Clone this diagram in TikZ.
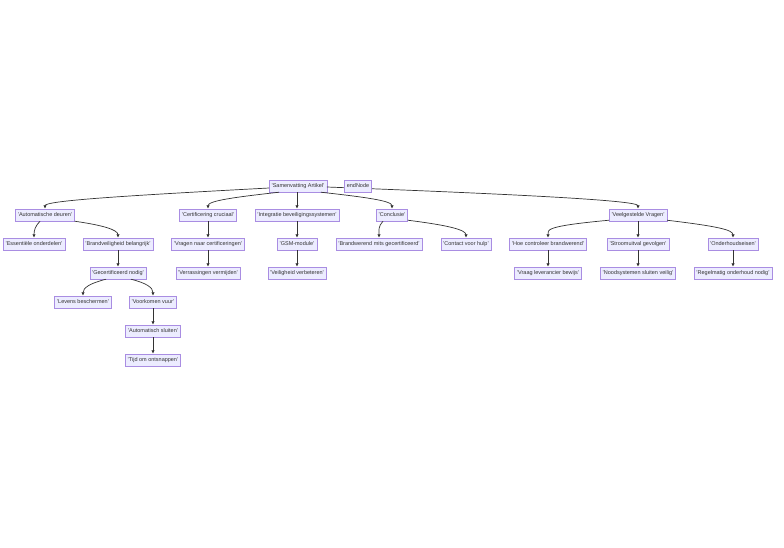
\documentclass[tikz,border=0pt]{standalone}
\usepackage{fontspec}
\setmainfont{Liberation Sans}
\usetikzlibrary{arrows.meta}
\definecolor{boxfill}{HTML}{ECECFF}
\definecolor{boxline}{HTML}{9370DB}
\definecolor{edgecol}{HTML}{333333}
\tikzset{
  box/.style={draw=boxline!80, fill=boxfill, line width=0.45pt, inner sep=2.3pt,
    minimum height=12pt, font=\fontsize{5.5}{6.5}\selectfont, text=edgecol},
  edge/.style={draw=edgecol, line width=0.7pt, -{Latex[length=3.4pt,width=3.4pt]}}
}
\begin{document}
\begin{tikzpicture}[x=1pt,y=-1pt]
        \useasboundingbox (0,0) rectangle (784,547);
        % level 0 and 1
        \node[box] (root) at (298,186) {'Samenvatting Artikel'};
        \node[box] (auto) at (45,215) {'Automatische deuren'};
        \node[box] (cert) at (208,215) {'Certificering cruciaal'};
        \node[box] (integ) at (297,215) {'Integratie beveiligingssystemen'};
        \node[box] (concl) at (392,215) {'Conclusie'};
        \node[box] (veel) at (638,215) {'Veelgestelde Vragen'};
        % level 2
        \node[box] (ess) at (34,244) {'Essentiële onderdelen'};
        \node[box] (brand) at (118,244) {'Brandveiligheid belangrijk'};
        \node[box] (vragen) at (208,244) {'Vragen naar certificeringen'};
        \node[box] (gsm) at (297,244) {'GSM-module'};
        \node[box] (brandw) at (379,244) {'Brandwerend mits gecertificeerd'};
        \node[box] (contact) at (466,244) {'Contact voor hulp'};
        \node[box] (hoe) at (548,244) {'Hoe controleer brandwerend'};
        \node[box] (stroom) at (638,244) {'Stroomuitval gevolgen'};
        \node[box] (onder) at (733,244) {'Onderhoudseisen'};
        % level 3
        \node[box] (gecert) at (118,273) {'Gecertificeerd nodig'};
        \node[box] (verras) at (208,273) {'Verrassingen vermijden'};
        \node[box] (veilig) at (297,273) {'Veiligheid verbeteren'};
        \node[box] (vraag) at (548,273) {'Vraag leverancier bewijs'};
        \node[box] (nood) at (638,273) {'Noodsystemen sluiten veilig'};
        \node[box] (regel) at (733,273) {'Regelmatig onderhoud nodig'};
        % level 4 and deeper
        \node[box] (levens) at (83,302) {'Levens beschermen'};
        \node[box] (vuur) at (153,302) {'Voorkomen vuur'};
        \node[box] (sluit) at (153,331) {'Automatisch sluiten'};
        \node[box] (tijd) at (153,360) {'Tijd om ontsnappen'};
        % connectors
        \draw[edge] (root.west) ++(0,2) .. controls +(-150,8) and +(0,-8) .. (auto.north);
        \draw[edge] (root.south west) ++(10,0) .. controls +(-45,5) and +(0,-8) .. (cert.north);
        \draw[edge] (root.south) ++(-1,0) -- (integ.north);
        \draw[edge] (root.south east) ++(-6,0) .. controls +(45,5) and +(0,-8) .. (concl.north);
        \draw[edge] (root.east) ++(0,1) .. controls +(210,8) and +(0,-8) .. (veel.north);
        \draw[edge] (auto.south) ++(-5,0) .. controls +(-5,5) and +(0,-7) .. (ess.north);
        \draw[edge] (auto.south east) .. controls +(28,4) and +(0,-8) .. (brand.north);
        \draw[edge] (brand) -- (gecert);
        \draw[edge] (gecert.south) ++(-12,0) .. controls +(-16,4) and +(0,-8) .. (levens.north);
        \draw[edge] (gecert.south) ++(13,0) .. controls +(16,4) and +(0,-8) .. (vuur.north);
        \draw[edge] (vuur) -- (sluit);
        \draw[edge] (sluit) -- (tijd);
        \draw[edge] (cert) -- (vragen);
        \draw[edge] (vragen) -- (verras);
        \draw[edge] (integ) -- (gsm);
        \draw[edge] (gsm) -- (veilig);
        \draw[edge] (concl.south) ++(-9,0) .. controls +(-5,5) and +(0,-7) .. (brandw.north);
        \draw[edge] (concl.south east) ++(0,-1) .. controls +(40,5) and +(0,-8) .. (contact.north);
        \draw[edge] (veel.south west) ++(0,-1) .. controls +(-65,6) and +(0,-8) .. (hoe.north);
        \draw[edge] (veel) -- (stroom);
        \draw[edge] (veel.south east) ++(0,-1) .. controls +(50,6) and +(0,-8) .. (onder.north);
        \draw[edge] (stroom) -- (nood);
        \draw[edge] (hoe) -- (vraag);
        \draw[edge] (onder) -- (regel);
        % lone node, on top of the passing line
        \node[box] (endNode) at (358,186) {endNode};
\end{tikzpicture}
\end{document}
